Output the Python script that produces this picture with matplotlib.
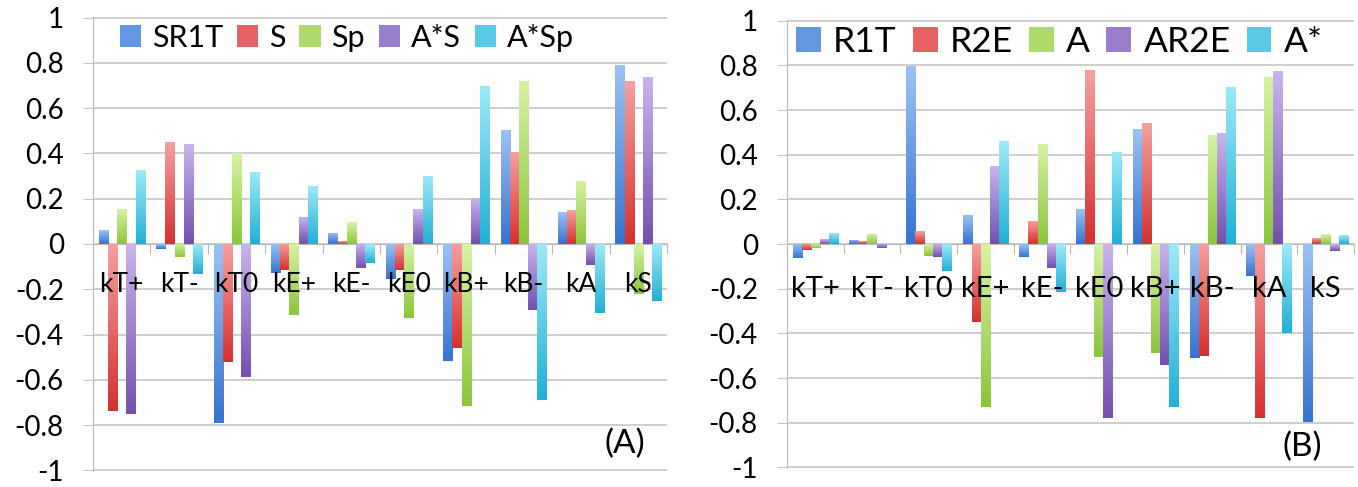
import numpy as np
import matplotlib.pyplot as plt
from matplotlib.colors import LinearSegmentedColormap

plt.rcParams['font.family'] = ['Lato', 'DejaVu Sans']
plt.rcParams['axes.unicode_minus'] = False

categories = ['kT+', 'kT-', 'kT0', 'kE+', 'kE-', 'kE0', 'kB+', 'kB-', 'kA', 'kS']
ytick_labels = ['-1', '-0.8', '-0.6', '-0.4', '-0.2', '0', '0.2', '0.4', '0.6', '0.8', '1']

# panel (A)
names_a = ['SR1T', 'S', 'Sp', 'A*S', 'A*Sp']
sr1t = [0.06, -0.02, -0.79, -0.13, 0.05, -0.155, -0.515, 0.505, 0.14, 0.79]
s = [-0.74, 0.45, -0.52, -0.115, 0.012, -0.117, -0.46, 0.405, 0.148, 0.72]
sp = [0.153, -0.059, 0.40, -0.313, 0.095, -0.327, -0.714, 0.722, 0.28, -0.22]
a_s = [-0.75, 0.443, -0.586, 0.12, -0.107, 0.153, 0.204, -0.291, -0.093, 0.737]
a_sp = [0.326, -0.134, 0.317, 0.258, -0.082, 0.301, 0.696, -0.69, -0.305, -0.251]

# panel (B)
names_b = ['R1T', 'R2E', 'A', 'AR2E', 'A*']
r1t = [-0.064, 0.019, 0.796, 0.132, -0.057, 0.156, 0.513, -0.512, -0.143, -0.798]
r2e = [-0.027, 0.012, 0.058, -0.35, 0.104, 0.777, 0.542, -0.501, -0.778, 0.025]
a = [-0.019, 0.045, -0.052, -0.731, 0.45, -0.507, -0.488, 0.487, 0.75, 0.043]
ar2e = [0.022, -0.019, -0.06, 0.348, -0.109, -0.781, -0.543, 0.499, 0.774, -0.031]
a_star = [0.05, 0.0, -0.119, 0.461, -0.213, 0.412, -0.731, 0.705, -0.399, 0.039]

# (dark, light) ends of each bar gradient
colors = [('#3574d2', '#9cc2f5'),
          ('#d83030', '#f79f9f'),
          ('#8cc63c', '#d7f2a3'),
          ('#7450b0', '#c8b4ee'),
          ('#22b0d6', '#9ceaf9')]

grid_col = '#c6c6c6'
grad = np.linspace(0, 1, 64).reshape(-1, 1)


def draw_panel(ax, names, series, tag, tag_xy, leg_anchor, leg_size, lab_size, lab_y):
    x = np.arange(len(categories)) + 0.5
    width = 0.16
    n = len(series)
    for k, (name, vals, (dark, light)) in enumerate(zip(names, series, colors)):
        cmap = LinearSegmentedColormap.from_list(name, [dark, light])
        bars = ax.bar(x + (k - (n - 1) / 2) * width, vals, width, color=cmap(0.45),
                      label=name, zorder=3, linewidth=0)
        for bar in bars:
            x0, y0 = bar.get_x(), bar.get_y()
            w, h = bar.get_width(), bar.get_height()
            if h == 0:
                continue
            lo, hi = min(y0, y0 + h), max(y0, y0 + h)
            im = ax.imshow(grad, cmap=cmap, extent=[x0, x0 + w, lo, hi], origin='lower',
                           aspect='auto', zorder=3.1, interpolation='bilinear')
            im.set_clip_path(bar)

    ax.set_xlim(0, len(categories))
    ax.set_ylim(-1.003, 1.003)
    ax.set_yticks(np.linspace(-1, 1, 11))
    ax.set_yticklabels(ytick_labels)
    ax.yaxis.grid(True, color=grid_col, lw=1.2)
    ax.set_axisbelow(True)

    for side in ['top', 'right']:
        ax.spines[side].set_visible(False)
    ax.spines['left'].set_color('#b8b8b8')
    ax.spines['bottom'].set_position(('data', 0))
    ax.spines['bottom'].set_color('#b8b8b8')

    ax.tick_params(axis='y', length=7, color=grid_col, pad=14, labelsize=20)
    ax.set_xticks(np.arange(len(categories) + 1))
    ax.set_xticklabels([])
    ax.tick_params(axis='x', length=7, color='#b8b8b8')

    # category names sit over the bars, below the zero line
    for xi, cat in zip(x, categories):
        ax.text(xi, lab_y, cat, ha='center', va='center', fontsize=lab_size, zorder=5)

    ax.legend(loc='center left', bbox_to_anchor=leg_anchor, ncol=5, frameon=False,
              fontsize=leg_size, handlelength=0.7, handleheight=0.7,
              handletextpad=0.35, columnspacing=0.45, borderpad=0, borderaxespad=0)
    ax.text(tag_xy[0], tag_xy[1], tag, ha='center', va='center', fontsize=24)


fig = plt.figure(figsize=(13.58, 4.87), dpi=100)
ax_a = fig.add_axes([0.0685, 0.0329, 0.4227, 0.9322])
ax_b = fig.add_axes([0.5795, 0.0390, 0.4175, 0.9199])

draw_panel(ax_a, names_a, [sr1t, s, sp, a_s, a_sp], '(A)', (9.27, -0.885),
           (0.047, 0.954), 22, 19, -0.18)
draw_panel(ax_b, names_b, [r1t, r2e, a, ar2e, a_star], '(B)', (9.08, -0.91),
           (0.016, 0.952), 25.5, 21, -0.20)

fig.savefig('out.png', dpi=100)
